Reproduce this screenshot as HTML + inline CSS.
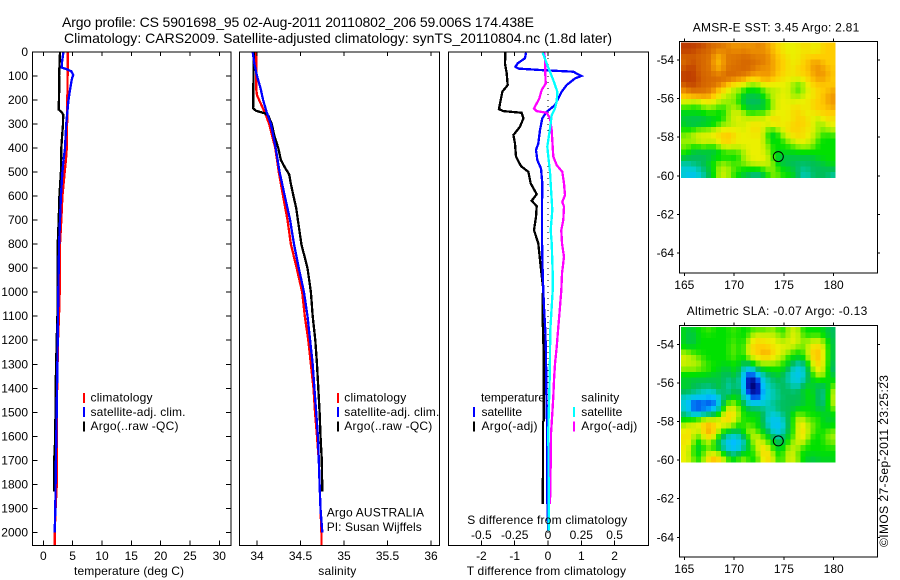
<!DOCTYPE html>
<html lang="en">
<head>
<meta charset="utf-8">
<title>Argo profile 5901698_95</title>
<style>
html,body{margin:0;padding:0;background:#fff;}
svg{display:block;font-family:"Liberation Sans",sans-serif;font-size:12px;fill:#000;}
text{font-family:"Liberation Sans",sans-serif;}
.cr{shape-rendering:crispEdges;}
</style>
</head>
<body>
<svg id="chart" xmlns="http://www.w3.org/2000/svg" width="900" height="580" viewBox="0 0 900 580">
<rect x="0" y="0" width="900" height="580" fill="#fff"/>
<text x="62" y="27" font-size="14" textLength="472">Argo profile: CS 5901698_95 02-Aug-2011 20110802_206 59.006S 174.438E</text>
<text x="64" y="43" font-size="14" textLength="548">Climatology: CARS2009. Satellite-adjusted climatology: synTS_20110804.nc (1.8d later)</text>

<g id="layer-maps"></g>
<g id="layer-lines"></g>
<g id="layer-axes"></g>

<text x="74" y="575" textLength="110">temperature (deg C)</text>
<text x="318.3" y="575" textLength="38">salinity</text>
<text x="466.7" y="575" textLength="159.3">T difference from climatology</text>
<text x="467.3" y="524" textLength="160">S difference from climatology</text>

<g>
<rect class="cr" x="83" y="393" width="2" height="10" fill="#f00"/>
<rect class="cr" x="83" y="407" width="2" height="10" fill="#00f"/>
<rect class="cr" x="83" y="421.7" width="2" height="10" fill="#000"/>
<text x="90.5" y="401.7" textLength="62">climatology</text>
<text x="90.5" y="416" textLength="95">satellite-adj. clim.</text>
<text x="90.5" y="430" textLength="88">Argo(..raw -QC)</text>
</g>
<g>
<rect class="cr" x="337" y="393" width="2" height="10" fill="#f00"/>
<rect class="cr" x="337" y="407" width="2" height="10" fill="#00f"/>
<rect class="cr" x="337" y="421.7" width="2" height="10" fill="#000"/>
<text x="344.3" y="401.7" textLength="62">climatology</text>
<text x="344.3" y="416" textLength="95">satellite-adj. clim.</text>
<text x="344.3" y="430" textLength="88">Argo(..raw -QC)</text>
<text x="326.7" y="516.7" textLength="97.3">Argo AUSTRALIA</text>
<text x="326.7" y="531" textLength="95">PI: Susan Wijffels</text>
</g>
<g>
<text x="481" y="401.7" textLength="64">temperature</text>
<rect class="cr" x="473" y="407" width="2" height="10" fill="#00f"/>
<text x="481.5" y="416" textLength="40.5">satellite</text>
<rect class="cr" x="473" y="421.7" width="2" height="10" fill="#000"/>
<text x="481.5" y="430" textLength="56">Argo(-adj)</text>
<text x="581.3" y="401.7" textLength="38">salinity</text>
<rect class="cr" x="573" y="407" width="2" height="10" fill="#0ff"/>
<text x="581.3" y="416" textLength="41">satellite</text>
<rect class="cr" x="573" y="421.7" width="2" height="10" fill="#f0f"/>
<text x="581.3" y="430" textLength="56">Argo(-adj)</text>
</g>

<text x="692.7" y="31.7" textLength="166.6">AMSR-E SST: 3.45 Argo: 2.81</text>
<text x="686.7" y="315" textLength="180.6">Altimetric SLA: -0.07 Argo: -0.13</text>
<text x="888" y="547" transform="rotate(-90 888 547)" textLength="172">©IMOS 27-Sep-2011 23:25:23</text>
</svg>

<script>
// ---------- profile axes ticks ----------
const depthTicks = [0,100,200,300,400,500,600,700,800,900,1000,1100,1200,1300,1400,1500,1600,1700,1800,1900,2000];
const tempTicks = [0,5,10,15,20,25,30];
const salTicks = [34,34.5,35,35.5,36];
const salTickLabels = ['34','34.5','35','35.5','36'];
const tDiffTicks = [-2,-1,0,1,2];
const sDiffTicks = [-0.5,-0.25,0,0.25,0.5];
const sDiffTickLabels = ['-0.5','-0.25','0','0.25','0.5'];
const lonTicks = [165,170,175,180];
const latTicks = [-54,-56,-58,-60,-62,-64];

// ---------- temperature panel ----------
const tempClimDepth = [0,100,300,400,450,500,600,700,800,1000,1100,1200,1500,1800,1900,2000,2057];
const tempClimValue = [4.15,4.15,4.05,4.0,3.85,3.65,3.25,3.07,2.85,2.8,2.68,2.5,2.28,2.3,2.1,1.95,1.95];
const tempSatDepth = [0,40,65,72,80,95,110,150,200,300,400,450,500,600,700,800,1000,1200,1500,1700,1900,2000];
const tempSatValue = [3.42,3.2,3.15,4.0,4.75,5.1,4.9,4.6,4.3,3.9,3.7,3.45,3.25,3.0,2.85,2.7,2.55,2.45,2.28,2.15,2.05,1.95];
const tempArgoDepth = [0,100,170,240,250,260,300,350,400,500,600,700,800,900,1100,1200,1400,1600,1700,1830];
const tempArgoValue = [2.85,2.7,2.7,2.62,3.1,3.4,3.35,3.2,3.07,3.0,2.75,2.62,2.45,2.4,2.4,2.28,2.1,2.05,1.85,1.85];

// ---------- salinity panel ----------
const salClimDepth = [0,100,150,180,220,260,300,400,500,600,700,800,900,1000,1100,1200,1300,1400,1500,1600,1700,1800,2000,2057];
const salClimValue = [33.99,33.99,33.99,34.0,34.05,34.1,34.14,34.21,34.25,34.3,34.35,34.39,34.456,34.52,34.55,34.59,34.62,34.65,34.667,34.69,34.71,34.72,34.74,34.74];
const salSatDepth = [0,50,100,150,200,250,300,400,500,600,700,800,900,1000,1100,1200,1300,1400,1500,1600,1700,1800,1900,2000];
const salSatValue = [33.95,33.97,34.0,34.04,34.07,34.11,34.16,34.215,34.26,34.32,34.38,34.425,34.48,34.54,34.58,34.61,34.64,34.66,34.68,34.7,34.71,34.72,34.73,34.75];
const salArgoDepth = [0,100,235,245,255,265,300,350,400,450,480,510,550,600,650,700,800,900,1000,1100,1200,1300,1400,1500,1600,1700,1830];
const salArgoValue = [33.965,33.96,33.955,33.99,34.09,34.13,34.17,34.2,34.245,34.275,34.32,34.37,34.39,34.42,34.45,34.47,34.51,34.58,34.62,34.64,34.67,34.69,34.705,34.72,34.73,34.745,34.75];

// ---------- difference panel ----------
const dTSatDepth = [3,26,47,61,69,75,82,100,110,138,165,193,221,249,276,325,381,408,450,485,547,644,783,922,992,1061,1158,1256,1408,1547,1825,1964,1992];
const dTSatValue = [-0.66,-0.69,-0.91,-0.98,-0.89,-0.24,0.76,1.0,0.81,0.56,0.41,0.31,0.21,-0.04,-0.17,-0.24,-0.29,-0.36,-0.32,-0.21,-0.17,-0.18,-0.18,-0.16,-0.14,-0.12,-0.08,-0.06,-0.05,-0.03,-0.03,0,0];
const dTArgoDepth = [3,47,89,138,165,214,238,246,253,276,311,346,381,436,475,499,547,592,619,642,686,742,797,894,978,1060,1116,1256,1534,1540,1728,1881];
const dTArgoValue = [-1.28,-1.29,-1.24,-1.21,-1.37,-1.44,-1.47,-1.34,-0.79,-0.74,-0.84,-1.04,-0.99,-0.96,-0.81,-0.59,-0.52,-0.34,-0.49,-0.34,-0.36,-0.42,-0.29,-0.22,-0.15,-0.16,-0.16,-0.13,-0.13,-0.15,-0.15,-0.16];
const dSArgoDepth = [3,33,89,131,158,193,214,235,246,253,276,325,367,436,471,499,547,596,624,644,700,742,797,853,922,992,1061,1145,1228,1298,1367,1436,1506,1589,1714,1881];
const dSArgoValue = [-0.03,-0.02,-0.02,-0.0175,-0.0475,-0.065,-0.085,-0.105,-0.085,-0.01,0.015,0.0275,0.0325,0.04,0.065,0.1075,0.12,0.1275,0.1075,0.12,0.115,0.1,0.105,0.12,0.105,0.1,0.09,0.0775,0.065,0.0525,0.045,0.04,0.0325,0.0225,0.02,0.015];
const dSSatDepth = [3,54,117,165,207,235,263,318,394,436,499,589,658,742,797,922,992,1061,1158,1353,1575,1825,1992];
const dSSatValue = [-0.04,-0.005,0.04,0.07,0.065,0.0525,0.0275,0.015,-0.005,0.0025,0.015,0.025,0.0325,0.02,0.0275,0.035,0.035,0.0275,0.0175,0.0125,0.0025,0.005,0.005];

// ---------- map grids (colour level per cell, north to south) ----------
const sstGrid = [
[11,11,11,11,11,10,10,10,10,9,9,9,9,9,9,10,9,9,8,8,7,7,7,7,8,8,7,7,8,8,8],
[11,11,11,10,10,10,10,9,9,10,9,9,10,9,9,9,9,9,8,8,7,7,7,7,7,7,7,7,8,8,8],
[10,10,10,10,10,10,9,8,9,10,10,10,10,10,10,9,10,9,9,8,8,7,7,7,8,8,8,8,8,8,8],
[10,10,11,10,10,10,9,8,9,10,9,10,10,10,10,10,10,9,9,8,8,8,7,7,8,8,9,9,8,8,8],
[10,11,11,10,10,10,9,8,9,10,10,10,10,10,10,9,9,9,9,8,8,7,7,8,8,8,9,9,9,8,8],
[11,11,11,10,10,10,10,9,10,10,10,10,10,10,9,9,9,9,9,8,8,8,7,8,8,8,9,9,9,9,8],
[11,11,11,11,10,10,10,10,10,10,10,9,9,8,8,8,9,9,8,8,7,7,7,7,7,8,8,9,9,8,8],
[10,11,11,10,10,10,10,10,9,8,7,7,7,6,5,6,7,7,7,7,7,7,6,5,6,7,8,8,8,8,8],
[9,10,10,10,10,10,9,8,7,7,6,6,5,5,5,5,5,6,6,6,7,7,6,5,6,7,7,8,8,8,9],
[8,8,9,9,9,9,8,7,7,6,6,6,4,4,4,4,5,6,7,7,7,7,6,6,7,7,7,8,8,9,9],
[7,7,6,6,7,7,7,7,6,6,6,5,4,4,4,4,4,5,6,7,7,7,7,7,7,7,8,8,8,9,9],
[5,5,5,5,6,6,6,5,5,6,6,6,5,4,4,4,4,5,6,7,7,7,7,8,7,7,8,8,8,8,9],
[5,5,5,5,5,5,5,5,5,6,7,7,6,5,5,6,5,6,7,7,7,7,8,8,7,7,7,8,8,8,8],
[4,4,4,4,4,5,5,5,5,6,7,7,7,7,7,7,7,7,8,7,7,7,7,8,8,7,7,6,7,8,7],
[5,4,4,4,4,4,4,5,6,6,6,7,6,7,7,7,7,7,8,8,7,7,8,8,8,8,7,6,6,7,7],
[5,5,5,6,6,6,7,7,7,7,7,7,7,7,8,8,7,5,5,6,7,8,8,8,7,7,7,6,6,6,7],
[6,6,7,7,7,7,7,8,8,9,8,7,7,7,7,7,7,5,4,5,6,7,7,8,8,7,7,6,5,5,5],
[6,6,6,7,7,7,7,7,8,8,7,7,7,7,7,7,7,5,5,5,5,6,7,7,7,7,6,5,5,5,5],
[6,6,5,5,6,5,5,6,7,7,7,7,7,7,7,7,7,6,5,5,5,5,5,6,6,6,6,5,5,5,5],
[5,5,4,4,4,4,4,4,5,5,5,5,6,7,7,7,7,6,5,5,5,5,5,5,5,5,5,5,5,5,5],
[5,4,4,4,4,4,5,5,5,5,5,5,6,7,7,7,7,7,5,4,4,4,4,4,4,4,4,5,5,5,5],
[3,3,4,4,4,5,5,6,6,6,5,6,6,6,7,7,7,7,6,5,4,4,4,4,4,4,4,4,4,5,5],
[3,3,3,3,4,4,5,6,7,6,6,5,5,5,5,5,5,6,6,5,5,5,4,4,3,4,4,4,4,4,4],
[3,2,2,3,3,4,5,6,7,6,5,5,4,4,3,3,4,5,6,6,5,5,5,4,3,3,4,4,4,4,3]
];
const slaGrid = [
[5,4,5,5,5,6,5,5,5,5,6,5,5,5,5,5,5,5,6,5,5,6,7,6,5,5,5,5,5,4,4],
[5,4,4,5,5,5,5,5,5,5,5,5,5,5,7,7,7,7,7,6,5,6,7,7,5,5,5,5,5,4,4],
[5,4,4,5,5,5,5,5,5,5,6,5,5,6,7,8,7,7,7,7,6,7,7,7,6,6,7,7,6,5,4],
[5,4,5,5,5,5,5,5,5,5,6,5,5,7,8,8,8,8,7,7,7,7,7,6,5,7,7,8,7,5,4],
[6,6,5,5,5,5,5,5,5,5,6,5,5,7,8,8,9,9,8,7,7,6,5,5,5,7,8,9,7,5,4],
[7,7,6,6,5,5,5,5,5,5,6,5,5,6,7,7,8,8,7,7,6,5,5,5,5,6,8,9,7,5,4],
[7,6,7,6,6,5,5,5,5,5,5,5,4,4,5,6,6,6,6,6,5,5,4,3,3,5,7,8,7,5,4],
[6,6,6,6,5,6,5,5,4,4,5,5,3,2,3,4,5,5,5,5,5,4,3,2,3,4,6,8,7,5,3],
[5,5,5,5,5,5,4,5,4,4,5,4,2,1,1,2,3,4,4,5,4,3,3,2,3,4,5,7,6,5,4],
[4,4,4,4,4,4,4,4,4,3,4,4,2,0,0,1,3,3,4,4,4,3,3,2,3,4,5,5,5,5,5],
[5,5,4,4,4,4,4,5,4,3,4,4,2,0,0,0,2,4,3,4,4,4,3,3,4,5,4,4,4,4,6],
[4,4,4,4,3,3,3,4,4,3,4,5,2,1,0,0,2,3,3,4,4,4,4,4,5,5,5,4,3,5,7],
[3,3,2,2,2,2,1,3,4,4,5,5,3,2,1,1,2,3,3,3,4,4,4,4,4,5,5,4,3,5,7],
[3,2,1,1,2,1,1,2,4,6,6,5,4,3,2,2,3,3,4,4,4,4,4,4,4,5,5,4,3,5,7],
[3,2,1,1,1,1,2,3,5,7,7,6,5,4,4,4,4,3,3,4,4,4,4,5,5,5,5,4,4,5,6],
[4,3,2,2,3,3,4,4,7,8,8,6,5,5,5,5,4,3,3,3,4,4,5,6,5,5,5,5,5,4,5],
[5,5,6,6,7,7,7,7,8,8,7,6,5,5,5,5,4,3,2,2,3,4,5,7,7,5,6,5,5,4,5],
[6,7,7,7,8,9,8,7,7,7,6,5,5,6,5,5,4,3,2,2,3,4,5,7,8,6,6,5,5,4,5],
[7,8,7,6,8,9,9,6,5,4,4,4,5,7,6,5,5,4,3,2,3,4,5,7,8,6,6,5,5,6,6],
[7,8,6,5,7,8,7,5,4,3,3,3,4,5,7,7,5,5,4,3,4,5,5,7,8,6,5,5,5,6,6],
[7,8,6,4,6,7,5,4,3,2,1,2,3,4,6,7,7,5,5,4,4,5,6,7,7,5,5,5,5,6,6],
[7,7,5,4,5,5,5,4,3,2,2,2,3,5,5,7,8,7,5,4,5,6,7,6,5,5,5,5,5,5,5],
[7,7,5,4,6,7,7,6,5,4,3,4,5,5,5,6,8,8,6,5,5,7,7,5,5,5,5,5,5,5,5],
[7,7,6,5,6,8,9,9,7,6,5,6,7,5,5,5,7,8,7,5,5,7,7,6,5,4,4,4,5,4,5]
];
const gridWestLon = [164.67];
const gridCellLon = [0.5];
const gridNorthLat = [-53.1];
const gridCellLat = [0.2917];
const floatPosition = [174.438, -59.006];

// ---------- colour ramp ----------
const rampColours = [[0,0,110],[0,50,230],[0,190,255],[0,205,205],[0,190,90],[0,225,0],[150,240,0],[235,240,0],[255,205,0],[240,150,0],[215,105,0],[190,60,0]];

const NS = 'http://www.w3.org/2000/svg';
const layerAxes = document.getElementById('layer-axes');
const layerLines = document.getElementById('layer-lines');
const layerMaps = document.getElementById('layer-maps');

const depthY = d => 52 + 0.2402 * d;
const tempX = v => 43.3 + 5.867 * v;
const salX = v => 257 + 87 * (v - 34);
const tDiffX = v => 548 + 33.3 * v;
const sDiffX = v => 548 + 133.2 * v;
const lonX = v => 684.3 + 9.96 * (v - 165);
const sstLatY = v => 60 + 19.3 * (-54 - v);
const slaLatY = v => 344.3 + 19.3 * (-54 - v);

function rampColour(level) {
  const t = Math.max(0, Math.min(rampColours.length - 1, level));
  const i = Math.min(rampColours.length - 2, Math.floor(t));
  const f = t - i;
  const a = rampColours[i];
  const b = rampColours[i + 1];
  return 'rgb(' + [0, 1, 2].map(k => Math.round(a[k] + (b[k] - a[k]) * f)).join(',') + ')';
}
// light 3x3 smoothing between neighbouring cells, as in the interpolated satellite field
function smoothedLevel(grid, r, c) {
  let sum = 0, weight = 0;
  for (let dr = -1; dr <= 1; dr++) {
    for (let dc = -1; dc <= 1; dc++) {
      const row = grid[r + dr];
      if (!row || row[c + dc] === undefined) continue;
      const w = (dr === 0 ? 2 : 1) * (dc === 0 ? 2 : 1);
      sum += row[c + dc] * w;
      weight += w;
    }
  }
  return sum / weight;
}
function line(parent, x1, y1, x2, y2, name) {
  const el = document.createElementNS(NS, 'line');
  el.setAttribute('x1', x1);
  el.setAttribute('y1', y1);
  el.setAttribute('x2', x2);
  el.setAttribute('y2', y2);
  el.setAttribute('stroke', '#000');
  el.setAttribute('class', 'cr');
  
  
  parent.appendChild(el);
  return el;
}
function label(parent, x, y, str, anchor, name) {
  const el = document.createElementNS(NS, 'text');
  el.setAttribute('x', x);
  el.setAttribute('y', y);
  el.setAttribute('text-anchor', anchor);
  el.textContent = str;
  
  
  parent.appendChild(el);
  return el;
}
function box(x0, y0, x1, y1, name) {
  const el = document.createElementNS(NS, 'rect');
  el.setAttribute('x', x0);
  el.setAttribute('y', y0);
  el.setAttribute('width', x1 - x0);
  el.setAttribute('height', y1 - y0);
  el.setAttribute('fill', 'none');
  el.setAttribute('stroke', '#000');
  el.setAttribute('class', 'cr');
  
  
  layerAxes.appendChild(el);
}
function profile(depths, values, xFn, colour, width, name) {
  const pts = depths.map((d, i) => xFn(values[i]).toFixed(1) + ',' + depthY(d).toFixed(1)).join(' ');
  const el = document.createElementNS(NS, 'polyline');
  el.setAttribute('points', pts);
  el.setAttribute('fill', 'none');
  el.setAttribute('stroke', colour);
  el.setAttribute('stroke-width', width);
  el.setAttribute('class', 'cr');
  
  
  layerLines.appendChild(el);
}

const PTOP = 52, PBOT = 545.7;

// temperature panel
box(32.5, PTOP, 231, PBOT, 'temperature-panel-frame');
depthTicks.forEach(d => {
  const y = depthY(d);
  line(layerAxes, 32.5, y, 37.5, y, 'depth-tick-left');
  line(layerAxes, 226, y, 231, y, 'depth-tick-right');
  label(layerAxes, 28, y + 4, String(d), 'end', 'depth-tick-label');
});
tempTicks.forEach(v => {
  const x = tempX(v);
  line(layerAxes, x, PTOP, x, PTOP + 4, 'temperature-tick-top');
  line(layerAxes, x, PBOT - 5, x, PBOT, 'temperature-tick-bottom');
  label(layerAxes, x, 560, String(v), 'middle', 'temperature-tick-label');
});

// salinity panel
box(239.5, PTOP, 439.5, PBOT, 'salinity-panel-frame');
salTicks.forEach((v, i) => {
  const x = salX(v);
  line(layerAxes, x, PTOP, x, PTOP + 4, 'salinity-tick-top');
  line(layerAxes, x, PBOT - 5, x, PBOT, 'salinity-tick-bottom');
  label(layerAxes, x, 560, salTickLabels[i], 'middle', 'salinity-tick-label');
});

// difference panel
box(448.5, PTOP, 648.5, PBOT, 'difference-panel-frame');
tDiffTicks.forEach(v => {
  const x = tDiffX(v);
  line(layerAxes, x, PTOP, x, PTOP + 4, 't-difference-tick-top');
  line(layerAxes, x, PBOT - 5, x, PBOT, 't-difference-tick-bottom');
  label(layerAxes, x, 560, String(v), 'middle', 't-difference-tick-label');
});
sDiffTicks.forEach((v, i) => {
  label(layerAxes, sDiffX(v), 539, sDiffTickLabels[i], 'middle', 's-difference-tick-label');
});
const zeroLine = line(layerLines, tDiffX(0), PTOP, tDiffX(0), PBOT, 'zero-difference-line');
zeroLine.setAttribute('stroke-dasharray', '1 5');

// profile series, back to front
profile(tempClimDepth, tempClimValue, tempX, '#f00', 2.3, 'temperature-climatology-line');
profile(tempArgoDepth, tempArgoValue, tempX, '#000', 2.3, 'temperature-argo-line');
profile(tempSatDepth, tempSatValue, tempX, '#00f', 2.3, 'temperature-satellite-line');
profile(salClimDepth, salClimValue, salX, '#f00', 2.3, 'salinity-climatology-line');
profile(salArgoDepth, salArgoValue, salX, '#000', 2.3, 'salinity-argo-line');
profile(salSatDepth, salSatValue, salX, '#00f', 2.3, 'salinity-satellite-line');
profile(dTArgoDepth, dTArgoValue, tDiffX, '#000', 2.3, 't-difference-argo-line');
profile(dTSatDepth, dTSatValue, tDiffX, '#00f', 2.3, 't-difference-satellite-line');
profile(dSArgoDepth, dSArgoValue, sDiffX, '#f0f', 2.3, 's-difference-argo-line');
profile(dSSatDepth, dSSatValue, sDiffX, '#0ff', 2.3, 's-difference-satellite-line');

// maps
function heatmap(grid, latY, name) {
  grid.forEach((row, r) => {
    row.forEach((level, c) => {
      const x0 = lonX(gridWestLon[0] + c * gridCellLon[0]);
      const x1 = lonX(gridWestLon[0] + (c + 1) * gridCellLon[0]);
      const y0 = latY(gridNorthLat[0] - r * gridCellLat[0]);
      const y1 = latY(gridNorthLat[0] - (r + 1) * gridCellLat[0]);
      const el = document.createElementNS(NS, 'rect');
      el.setAttribute('x', x0.toFixed(2));
      el.setAttribute('y', y0.toFixed(2));
      el.setAttribute('width', (x1 - x0 + 0.3).toFixed(2));
      el.setAttribute('height', (y1 - y0 + 0.3).toFixed(2));
      el.setAttribute('fill', rampColour(smoothedLevel(grid, r, c)));
      el.setAttribute('class', 'cr');
      
      
      layerMaps.appendChild(el);
    });
  });
}
function mapAxes(top, bottom, latY, tickLabelBase, prefix) {
  box(679.5, top, 877.7, bottom, prefix + '-map-frame');
  lonTicks.forEach(v => {
    const x = lonX(v);
    line(layerAxes, x, top - 3, x, top, prefix + '-lon-tick-top');
    line(layerAxes, x, bottom, x, bottom + 3, prefix + '-lon-tick-bottom');
    label(layerAxes, x, tickLabelBase, String(v), 'middle', prefix + '-lon-tick-label');
  });
  latTicks.forEach(v => {
    const y = latY(v);
    line(layerAxes, 677, y, 679.5, y, prefix + '-lat-tick-left');
    line(layerAxes, 877.7, y, 880, y, prefix + '-lat-tick-right');
    label(layerAxes, 674, y + 4, String(v), 'end', prefix + '-lat-tick-label');
  });
}
function floatMarker(latY, name) {
  const el = document.createElementNS(NS, 'circle');
  el.setAttribute('cx', lonX(floatPosition[0]).toFixed(1));
  el.setAttribute('cy', latY(floatPosition[1]).toFixed(1));
  el.setAttribute('r', 5);
  el.setAttribute('fill', 'none');
  el.setAttribute('stroke', '#000');
  
  
  layerMaps.appendChild(el);
}
heatmap(sstGrid, sstLatY, 'sst-cell');
heatmap(slaGrid, slaLatY, 'sla-cell');
floatMarker(sstLatY, 'sst-float-marker');
floatMarker(slaLatY, 'sla-float-marker');
mapAxes(41.3, 273, sstLatY, 289, 'sst');
mapAxes(325.3, 557, slaLatY, 573, 'sla');
</script>
</body>
</html>
